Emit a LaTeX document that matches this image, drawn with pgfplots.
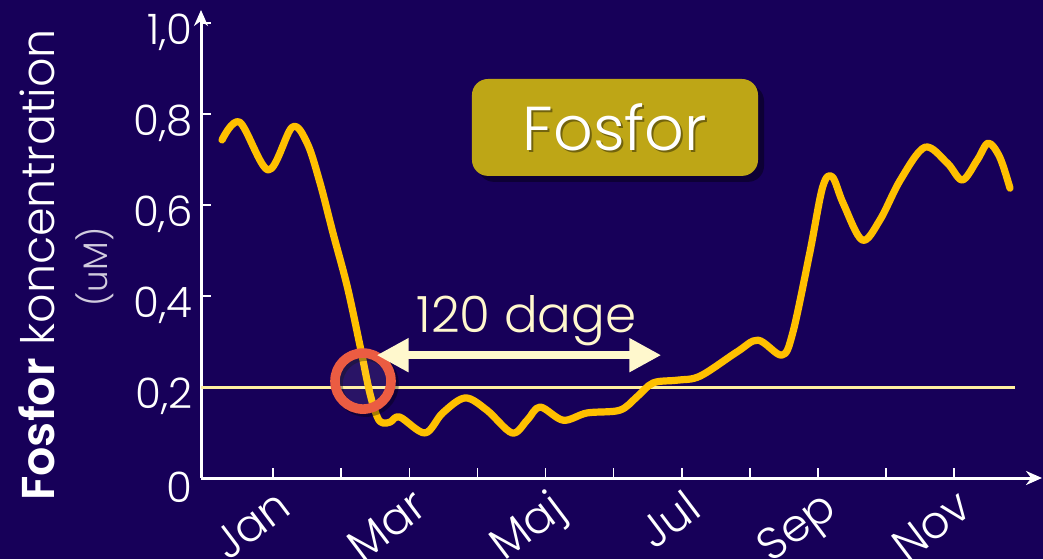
\documentclass[border=0pt]{standalone}
\usepackage{fontspec}
\setmainfont{Poppins}[UprightFont={* Light}, BoldFont={* SemiBold}]
\usepackage{pgfplots}
\pgfplotsset{compat=1.18}
\usetikzlibrary{arrows.meta}
\definecolor{bg}{RGB}{23,0,89}
\definecolor{curve}{RGB}{255,192,0}
\definecolor{thr}{RGB}{255,240,160}
\definecolor{cream}{RGB}{255,248,205}
\definecolor{ring}{RGB}{235,92,66}
\definecolor{boxc}{RGB}{190,166,22}
\begin{document}
\begin{tikzpicture}
\path[use as bounding box, fill=bg] (0,0) rectangle (521.5pt,279.5pt);
\begin{axis}[
  at={(100.5pt,40.5pt)}, anchor=south west,
  scale only axis, width=420.5pt, height=234pt,
  xmin=-0.0587, xmax=12.29, ymin=0, ymax=1.0286,
  axis lines=left,
  axis line style={white, line width=1.5pt},
  x axis line style={-{Stealth[length=8pt,width=7pt]}},
  y axis line style={-{Stealth[length=8pt,width=7pt]}},
  tick style={white, line width=0.8pt},
  tick align=inside, major tick length=5pt,
  xtick={1,2,3,4,5,6,7,8,9,10,11},
  xticklabels={Jan,,Mar,,Maj,,Jul,,Sep,,Nov},
  ytick={0,0.2,0.4,0.6,0.8,1.0},
  yticklabels={0,{0,2},{0,4},{0,6},{0,8},{1,0}},
  tick label style={white, font=\fontsize{21}{24}\selectfont},
  xticklabel style={rotate=37, anchor=north east, inner sep=2pt, yshift=-2pt, font=\fontsize{22.5}{25}\selectfont},
  yticklabel style={inner sep=2pt, xshift=-2pt, yshift=-4.5pt},
  clip=false,
]
% threshold line
\addplot[thr, line width=1.5pt] coordinates {(-0.06,0.2) (11.9,0.2)};
% curve
\addplot[curve, line width=3.6pt, smooth, tension=0.55, line cap=round, line join=round] coordinates {
(0.25,0.743) (0.51,0.782) (0.93,0.677) (1.28,0.771) (1.50,0.736) (1.69,0.648)
(1.88,0.538) (2.09,0.420) (2.28,0.288) (2.42,0.187) (2.53,0.134) (2.61,0.121)
(2.72,0.123) (2.86,0.134) (3.23,0.099) (3.49,0.143) (3.82,0.176) (4.14,0.149)
(4.51,0.099) (4.73,0.127) (4.92,0.156) (5.26,0.127) (5.61,0.143) (6.09,0.149)
(6.34,0.178) (6.58,0.209) (6.93,0.215) (7.27,0.224) (7.81,0.277) (8.12,0.303)
(8.47,0.270) (8.63,0.319) (8.88,0.495) (9.07,0.640) (9.21,0.662) (9.37,0.604)
(9.65,0.523) (9.91,0.567) (10.21,0.655) (10.57,0.727) (10.90,0.692) (11.12,0.655)
(11.34,0.699) (11.50,0.736) (11.67,0.705) (11.82,0.637)
};
% red circle
\draw[black, opacity=0.35, line width=4.8pt] ([xshift=1.5pt,yshift=-1.5pt]axis cs:2.32,0.213) circle[radius=14pt];
\fill[white, opacity=0.08] (axis cs:2.32,0.213) circle[radius=14pt];
\draw[ring, line width=4.8pt] (axis cs:2.32,0.213) circle[radius=14pt];
% double arrow
\draw[cream, line width=4pt, {Triangle[length=16pt,width=16pt]}-{Triangle[length=16pt,width=16pt]}] (axis cs:2.52,0.27) -- (axis cs:6.70,0.27);
\node[cream, font=\fontsize{25}{28}\selectfont] at (axis cs:4.72,0.345) {120 dage};
% Fosfor box
\fill[black, opacity=0.4, rounded corners=8pt] ([xshift=3pt,yshift=-3pt]axis cs:3.92,0.664) rectangle ([xshift=3pt,yshift=-3pt]axis cs:8.12,0.877);
\fill[boxc, rounded corners=8pt] (axis cs:3.92,0.664) rectangle (axis cs:8.12,0.877);
\node[black, opacity=0.4, font=\fontsize{31}{34}\selectfont] at ([xshift=1pt,yshift=-1pt]axis cs:6.02,0.7705) {Fosfor};
\node[white, font=\fontsize{31}{34}\selectfont] at (axis cs:6.02,0.7705) {Fosfor};
\end{axis}
\node[rotate=90, white, font=\fontsize{23}{26}\selectfont] at (18.5pt,147pt) {\textbf{Fosfor} koncentration};
\node[rotate=90, white!80!bg, font=\fontsize{17}{20}\selectfont] at (47.5pt,146pt) {(uM)};
\end{tikzpicture}
\end{document}
